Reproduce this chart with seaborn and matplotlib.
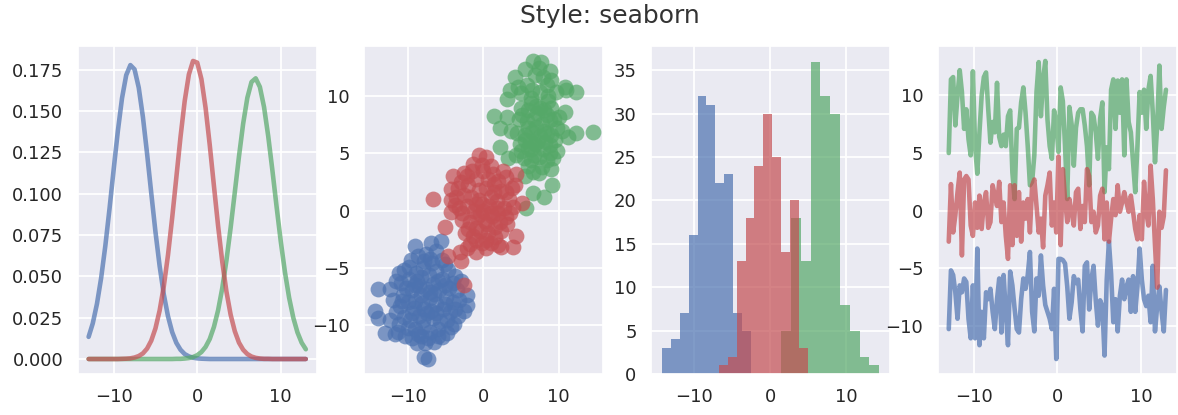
import numpy as np
import matplotlib
matplotlib.use('Agg')
import matplotlib.pyplot as plt
import seaborn as sns

# old seaborn "deep" cycle: blue, green, red
BLUE, GREEN, RED = '#4C72B0', '#55A868', '#C44E52'

# ---- panel 1: smooth density curves, sampled every 0.5 from -13 to 13
blue_curve = [0.0134, 0.0216, 0.0334, 0.0490, 0.0684, 0.0908, 0.1147, 0.1379, 0.1578, 0.1717,
              0.1778, 0.1752, 0.1642, 0.1464, 0.1242, 0.1003, 0.0770, 0.0563, 0.0391, 0.0259,
              0.0163, 0.0098, 0.0056, 0.0030, 0.0016, 0.0008, 0.0004, 0.0002, 0.0001, 0.0,
              0.0, 0.0, 0.0, 0.0, 0.0, 0.0, 0.0, 0.0, 0.0, 0.0,
              0.0, 0.0, 0.0, 0.0, 0.0, 0.0, 0.0, 0.0, 0.0, 0.0,
              0.0, 0.0, 0.0]
green_curve = [0.0, 0.0, 0.0, 0.0, 0.0, 0.0, 0.0, 0.0, 0.0, 0.0,
               0.0, 0.0, 0.0, 0.0, 0.0, 0.0, 0.0, 0.0, 0.0, 0.0,
               0.0, 0.0001, 0.0001, 0.0003, 0.0006, 0.0012, 0.0023, 0.0042, 0.0073, 0.0121,
               0.0194, 0.0295, 0.0429, 0.0597, 0.0794, 0.1009, 0.1226, 0.1424, 0.1580, 0.1676,
               0.1698, 0.1646, 0.1524, 0.1348, 0.1141, 0.0922, 0.0712, 0.0526, 0.0371, 0.0250,
               0.0161, 0.0099, 0.0059]
red_curve = [0.0, 0.0, 0.0, 0.0, 0.0, 0.0, 0.0, 0.0, 0.0001, 0.0002,
             0.0004, 0.0009, 0.0018, 0.0034, 0.0063, 0.0111, 0.0185, 0.0293, 0.0440, 0.0628,
             0.0853, 0.1098, 0.1343, 0.1560, 0.1721, 0.1803, 0.1793, 0.1694, 0.1520, 0.1295,
             0.1048, 0.0805, 0.0588, 0.0407, 0.0268, 0.0168, 0.0099, 0.0056, 0.0030, 0.0015,
             0.0007, 0.0003, 0.0001, 0.0001, 0.0, 0.0, 0.0, 0.0, 0.0, 0.0,
             0.0, 0.0, 0.0]

# ---- panel 2: scatter clouds
blue_x = [-13.9, -12.4, -12.0, -14.3, -13.9, -13.0, -11.7, -12.3, -7.8, -7.3,
          -8.8, -7.7, -10.3, -9.1, -6.9, -5.6, -6.2, -2.2, -2.2, -2.5,
          -3.7, -4.8, -11.2, -11.5, -11.3,
          -10.5, -9.6, -8.6, -7.6, -6.8, -5.5, -4.6, -4.0,
          -10.9, -9.9, -8.9, -8.0, -7.2, -6.3, -5.4, -4.5, -3.5,
          -10.6, -9.5, -8.5, -7.6, -6.7, -5.8, -4.9, -4.0, -3.2,
          -11.0, -10.0, -9.0, -8.1, -7.1, -6.2, -5.3, -4.4, -3.4,
          -10.5, -9.5, -8.5, -7.5, -6.6, -5.7, -4.8, -3.9,
          -10.0, -9.0, -8.0, -7.0, -6.0, -5.4, -9.4, -8.2, -6.5, -11.2, -11.6,
          -8.3, -7.0, -9.2, -6.0, -7.8, -8.8, -6.9,
          -9.9, -7.1, -5.0, -10.2, -8.3, -6.5, -5.0, -3.8, -9.7, -8.0,
          -6.2, -4.3, -7.3, -8.6, -10.8, -9.0, -6.0, -5.0, -7.9, -3.0]
blue_y = [-6.9, -6.9, -7.8, -8.8, -9.4, -10.7, -10.8, -9.6, -12.8, -13.0,
          -11.6, -11.6, -11.0, -3.1, -2.8, -2.7, -3.5, -7.4, -8.3, -8.8,
          -5.7, -10.7, -5.5, -6.2, -10.6,
          -5.2, -4.3, -4.0, -3.8, -4.6, -4.3, -5.2, -6.3,
          -6.3, -6.0, -5.5, -5.0, -5.6, -5.3, -6.0, -6.8, -7.0,
          -7.4, -7.0, -6.6, -6.9, -6.4, -7.0, -7.6, -8.0, -7.8,
          -8.4, -8.0, -7.9, -8.1, -7.7, -8.2, -8.6, -8.9, -9.2,
          -9.3, -9.0, -9.2, -9.0, -9.4, -9.7, -9.6, -9.9,
          -10.3, -10.4, -10.2, -10.6, -10.4, -11.1, -11.2, -11.0, -11.5, -9.9, -8.9,
          -7.4, -7.1, -8.5, -6.2, -8.6, -6.2, -8.8,
          -4.9, -4.2, -4.7, -6.8, -5.8, -7.3, -8.2, -8.6, -9.6, -9.6,
          -9.0, -10.2, -11.2, -10.8, -7.9, -6.5, -11.0, -6.5, -4.4, -6.2]
green_x = [6.6, 7.7, 5.5, 4.2, 8.8, 9.0, 7.9, 10.8, 12.3, 3.5,
           3.1, 6.4, 8.6, 1.5, 3.1, 10.8, 14.5, 12.3, 11.2, 2.2,
           3.7, 2.2, 3.3, 4.4, 6.6, 5.5, 9.0, 9.1, 6.6, 8.1,
           5.7, 5.0, 11.0,
           5.0, 6.0, 7.0, 8.0, 9.0, 10.0,
           4.8, 5.8, 6.8, 7.8, 8.8, 9.8,
           4.5, 5.5, 6.5, 7.5, 8.5, 9.5, 10.4,
           4.9, 5.9, 6.9, 7.9, 8.8, 9.8,
           5.4, 6.4, 7.4, 8.4, 9.2,
           6.0, 7.8, 7.0, 6.2, 8.2, 7.2, 6.5, 7.5, 5.8, 8.4,
           5.2, 6.4, 7.6, 8.4, 6.0, 7.2, 8.0, 9.0, 5.0, 6.8,
           8.8, 7.4, 6.4, 5.6, 9.4, 8.6, 6.9, 7.4, 4.6, 9.6]
green_y = [13.1, 13.0, 12.4, 11.7, 12.2, 11.4, 11.7, 10.8, 10.4, 10.6,
           9.8, 9.9, 10.0, 8.3, 8.2, 8.6, 6.9, 6.8, 6.4, 7.2,
           7.0, 5.6, 4.6, 4.9, 3.4, 3.0, 3.6, 2.2, 1.5, 1.2,
           0.2, 10.3, 10.6,
           9.0, 8.8, 9.2, 8.8, 9.0, 8.2,
           8.0, 7.8, 8.0, 7.6, 7.9, 7.2,
           6.8, 6.6, 6.9, 6.5, 6.8, 6.2, 7.0,
           5.8, 5.5, 5.8, 5.4, 5.7, 5.2,
           4.6, 4.4, 4.7, 4.4, 4.6,
           3.9, 3.8, 7.3, 6.1, 6.0, 8.5, 10.6, 10.4, 11.0, 11.0,
           8.4, 9.4, 9.0, 8.4, 7.2, 6.0, 7.0, 6.6, 5.2, 4.9,
           5.0, 3.3, 5.4, 6.2, 8.0, 9.6, 11.9, 12.5, 10.8, 10.4]
red_x = [-6.7, -5.1, -4.6, -2.9, -3.1, -0.6, 0.4, -1.3, 1.1, -4.0,
         -2.5, -4.2, 4.4, 3.8, 4.2, 5.1, 4.4, 4.0, 2.4, 0.4,
         -0.9, -2.1, -2.6, -4.2, -4.2,
         -3.0, -2.0, -1.0, 0.0, 1.3, 2.0, 3.0, -0.2,
         -3.6, -2.6, -1.6, -0.6, 0.4, 1.4, 2.4, 3.4,
         -3.2, -2.2, -1.2, -0.2, 0.8, 1.8, 2.8, 3.6,
         -2.8, -1.8, -0.8, 0.2, 1.2, 2.2, 3.2,
         -2.4, -1.4, -0.4, 0.6, 1.6, 2.3,
         -1.8, -0.2, 1.0, 2.0,
         0.0, 1.0, -1.0, 0.5, -0.5, 2.0, -2.0, 1.5,
         -3.4, -1.5, 0.6, 2.6, -2.8, -1.0, 1.0, 3.0, -1.0, 0.4,
         1.6, 3.0, -3.8, -0.4, 1.8, 3.9, -2.2]
red_y = [1.0, -1.4, -4.0, -4.4, -3.6, 4.9, 4.7, 4.1, 3.9, 3.0,
         3.3, 1.9, 3.2, 2.0, 2.2, 0.7, -2.2, -3.2, -3.2, -3.3,
         -3.6, -3.3, -6.5, -0.1, 0.9,
         2.5, 2.2, 2.8, 3.5, 3.2, 2.6, 2.9, 4.0,
         1.2, 1.4, 1.2, 1.8, 2.0, 1.6, 1.7, 1.0,
         0.2, 0.4, 0.0, 0.6, 0.4, 0.8, 0.2, -0.2,
         -0.8, -1.0, -0.6, -0.9, -0.5, -1.0, -1.2,
         -2.0, -2.2, -1.8, -2.0, -2.3, -1.8,
         -2.9, -2.8, -2.8, -3.0,
         0.0, 1.2, -1.5, -1.2, 0.9, -0.2, -1.6, 2.3,
         2.0, 3.5, 2.8, 3.5, -0.2, 0.6, -0.2, -0.6, -2.6, -2.6,
         -1.4, 1.6, 0.5, -0.3, 0.2, 0.3, 3.0]

# ---- panel 3: histograms (bin edges and counts)
blue_edges = [-14.25, -13.08, -11.91, -10.74, -9.57, -8.40, -7.23, -6.06, -4.89, -3.72, -2.55]
blue_counts = [3, 4, 7, 16, 32, 31, 22, 23, 7, 5]
green_edges = [1.45, 2.74, 4.03, 5.31, 6.60, 7.89, 9.18, 10.47, 11.75, 13.04, 14.33]
green_counts = [5, 18, 13, 36, 32, 30, 8, 5, 2, 1]
red_edges = [-6.78, -5.61, -4.43, -3.26, -2.09, -0.91, 0.26, 1.44, 2.61, 3.79, 4.96]
red_counts = [1, 2, 13, 18, 24, 30, 25, 14, 20, 3]

# ---- panel 4: noisy lines, 100 samples from -13 to 13
green_line = [5.0, 11.4, 11.6, 7.4, 10.0, 12.2, 10.3, 7.1, 8.8, 6.2,
              4.8, 12.1, 5.6, 3.2, 6.8, 10.0, 11.6, 12.0, 8.8, 5.9,
              7.7, 6.8, 11.1, 6.4, 5.6, 6.6, 5.6, 8.2, 8.7, 3.3,
              1.0, 7.1, 7.2, 9.4, 10.7, 8.5, 5.6, 2.2, 2.5, 4.8,
              10.3, 12.9, 8.2, 11.4, 13.0, 7.9, 5.6, 4.5, 8.7, 7.7,
              5.1, 10.7, 9.5, 5.6, 1.0, 9.0, 7.5, 3.9, 7.2, 8.5,
              8.8, 8.8, 7.4, 5.6, 2.2, 8.5, 8.2, 6.8, 4.5, 8.0,
              9.4, 1.6, 5.5, 3.6, 10.5, 11.4, 7.1, 11.3, 8.5, 11.4,
              4.8, 11.4, 7.7, 6.8, 4.2, 1.6, 5.6, 10.3, 8.5, 10.5,
              7.1, 10.5, 11.7, 8.5, 4.2, 7.4, 12.6, 7.1, 9.0, 10.5]
red_line = [-2.7, 2.3, -1.9, -0.4, 1.6, 3.3, -3.9, 2.7, 3.0, 2.7,
            -1.3, -2.2, 0.7, -1.5, 1.3, -1.6, 0.7, 1.6, -1.5, -1.0,
            2.2, 1.3, 0.4, 2.5, -1.0, 0.7, -2.2, -4.2, 2.2, -3.0,
            2.2, -2.2, 1.6, -2.7, 0.7, -0.7, 1.0, -1.9, 2.2, 2.7,
            0.4, -1.9, -0.7, -3.2, 1.3, 2.2, 3.3, -1.3, 0.7, -1.9,
            4.7, -3.0, 3.6, 1.0, -1.0, 1.0, -0.2, -1.3, 1.6, 1.9,
            -1.6, 0.4, -1.0, 3.6, 3.0, -1.0, -0.1, -1.9, -1.3, 1.3,
            1.9, -2.5, 0.7, -2.7, -0.7, 1.0, -0.4, 2.2, -0.1, 0.7,
            1.6, 0.7, -0.1, 1.3, -0.1, -1.6, -2.5, -0.4, -2.5, 2.5,
            -0.1, -1.3, 3.9, 1.0, -3.0, -6.7, -0.1, -1.5, -0.5, 3.5]
blue_line = [-10.3, -5.2, -5.6, -7.1, -9.4, -6.5, -7.1, -5.9, -6.2, -9.4,
             -11.1, -6.5, -11.1, -3.3, -11.7, -8.8, -11.1, -7.1, -7.7, -6.8,
             -8.8, -10.3, -7.7, -5.9, -10.6, -5.6, -8.8, -11.7, -5.3, -6.5,
             -8.5, -10.3, -10.6, -7.7, -5.9, -6.8, -5.6, -3.6, -8.8, -10.5,
             -5.9, -7.4, -3.9, -6.5, -8.2, -8.8, -9.4, -10.3, -6.8, -12.9,
             -4.2, -4.2, -4.3, -4.6, -6.6, -9.4, -8.0, -5.7, -6.3, -6.0,
             -8.6, -10.5, -4.8, -4.5, -8.6, -6.0, -4.8, -7.8, -10.0, -7.8,
             -8.3, -12.6, -6.0, -2.7, -5.5, -9.7, -7.7, -10.5, -7.4, -6.0,
             -7.7, -6.6, -6.0, -8.8, -5.7, -8.8, -6.6, -3.3, -6.0, -7.7,
             -8.3, -7.4, -9.7, -4.8, -10.5, -8.3, -6.6, -8.8, -10.5, -6.9]

curve_x = np.linspace(-13, 13, len(blue_curve))
line_x = np.linspace(-13, 13, len(blue_line))

sns.set_theme(style='darkgrid')
plt.rcParams.update({
    'font.family': ['DejaVu Sans'],
    'xtick.labelsize': 13,
    'ytick.labelsize': 13,
    'xtick.major.pad': 10,
    'ytick.major.pad': 10.5,
    'grid.linewidth': 1.3,
    'text.color': '.15',
    'xtick.color': '.15',
    'ytick.color': '.15',
})

fig, axes = plt.subplots(1, 4, figsize=(11.78, 4.15), dpi=100)
fig.subplots_adjust(left=0.066, right=0.999, bottom=0.099, top=0.889, wspace=0.2)

# density curves
ax = axes[0]
for vals, c in [(blue_curve, BLUE), (green_curve, GREEN), (red_curve, RED)]:
    sns.lineplot(x=curve_x, y=vals, ax=ax, color=c, lw=3.3, alpha=0.7, sort=False)

# scatter
ax = axes[1]
for xs, ys, c in [(blue_x, blue_y, BLUE), (green_x, green_y, GREEN), (red_x, red_y, RED)]:
    sns.scatterplot(x=xs, y=ys, ax=ax, color=c, s=130, alpha=0.7, linewidth=0)

# histograms
ax = axes[2]
for edges, counts, c in [(blue_edges, blue_counts, BLUE), (green_edges, green_counts, GREEN),
                         (red_edges, red_counts, RED)]:
    centers = [(a + b) / 2 for a, b in zip(edges[:-1], edges[1:])]
    sns.histplot(x=centers, weights=counts, bins=edges, ax=ax, color=c, alpha=0.7, linewidth=0)
ax.set_ylabel('')

# noisy lines
ax = axes[3]
for vals, c in [(blue_line, BLUE), (green_line, GREEN), (red_line, RED)]:
    sns.lineplot(x=line_x, y=vals, ax=ax, color=c, lw=3.3, alpha=0.7, sort=False)

for ax in axes:
    ax.set_xlabel('')
    ax.tick_params(length=0)

fig.text(0.518, 0.961, 'Style: seaborn', ha='center', va='center', fontsize=18, color='.2')

fig.savefig('out.png', dpi=100)
